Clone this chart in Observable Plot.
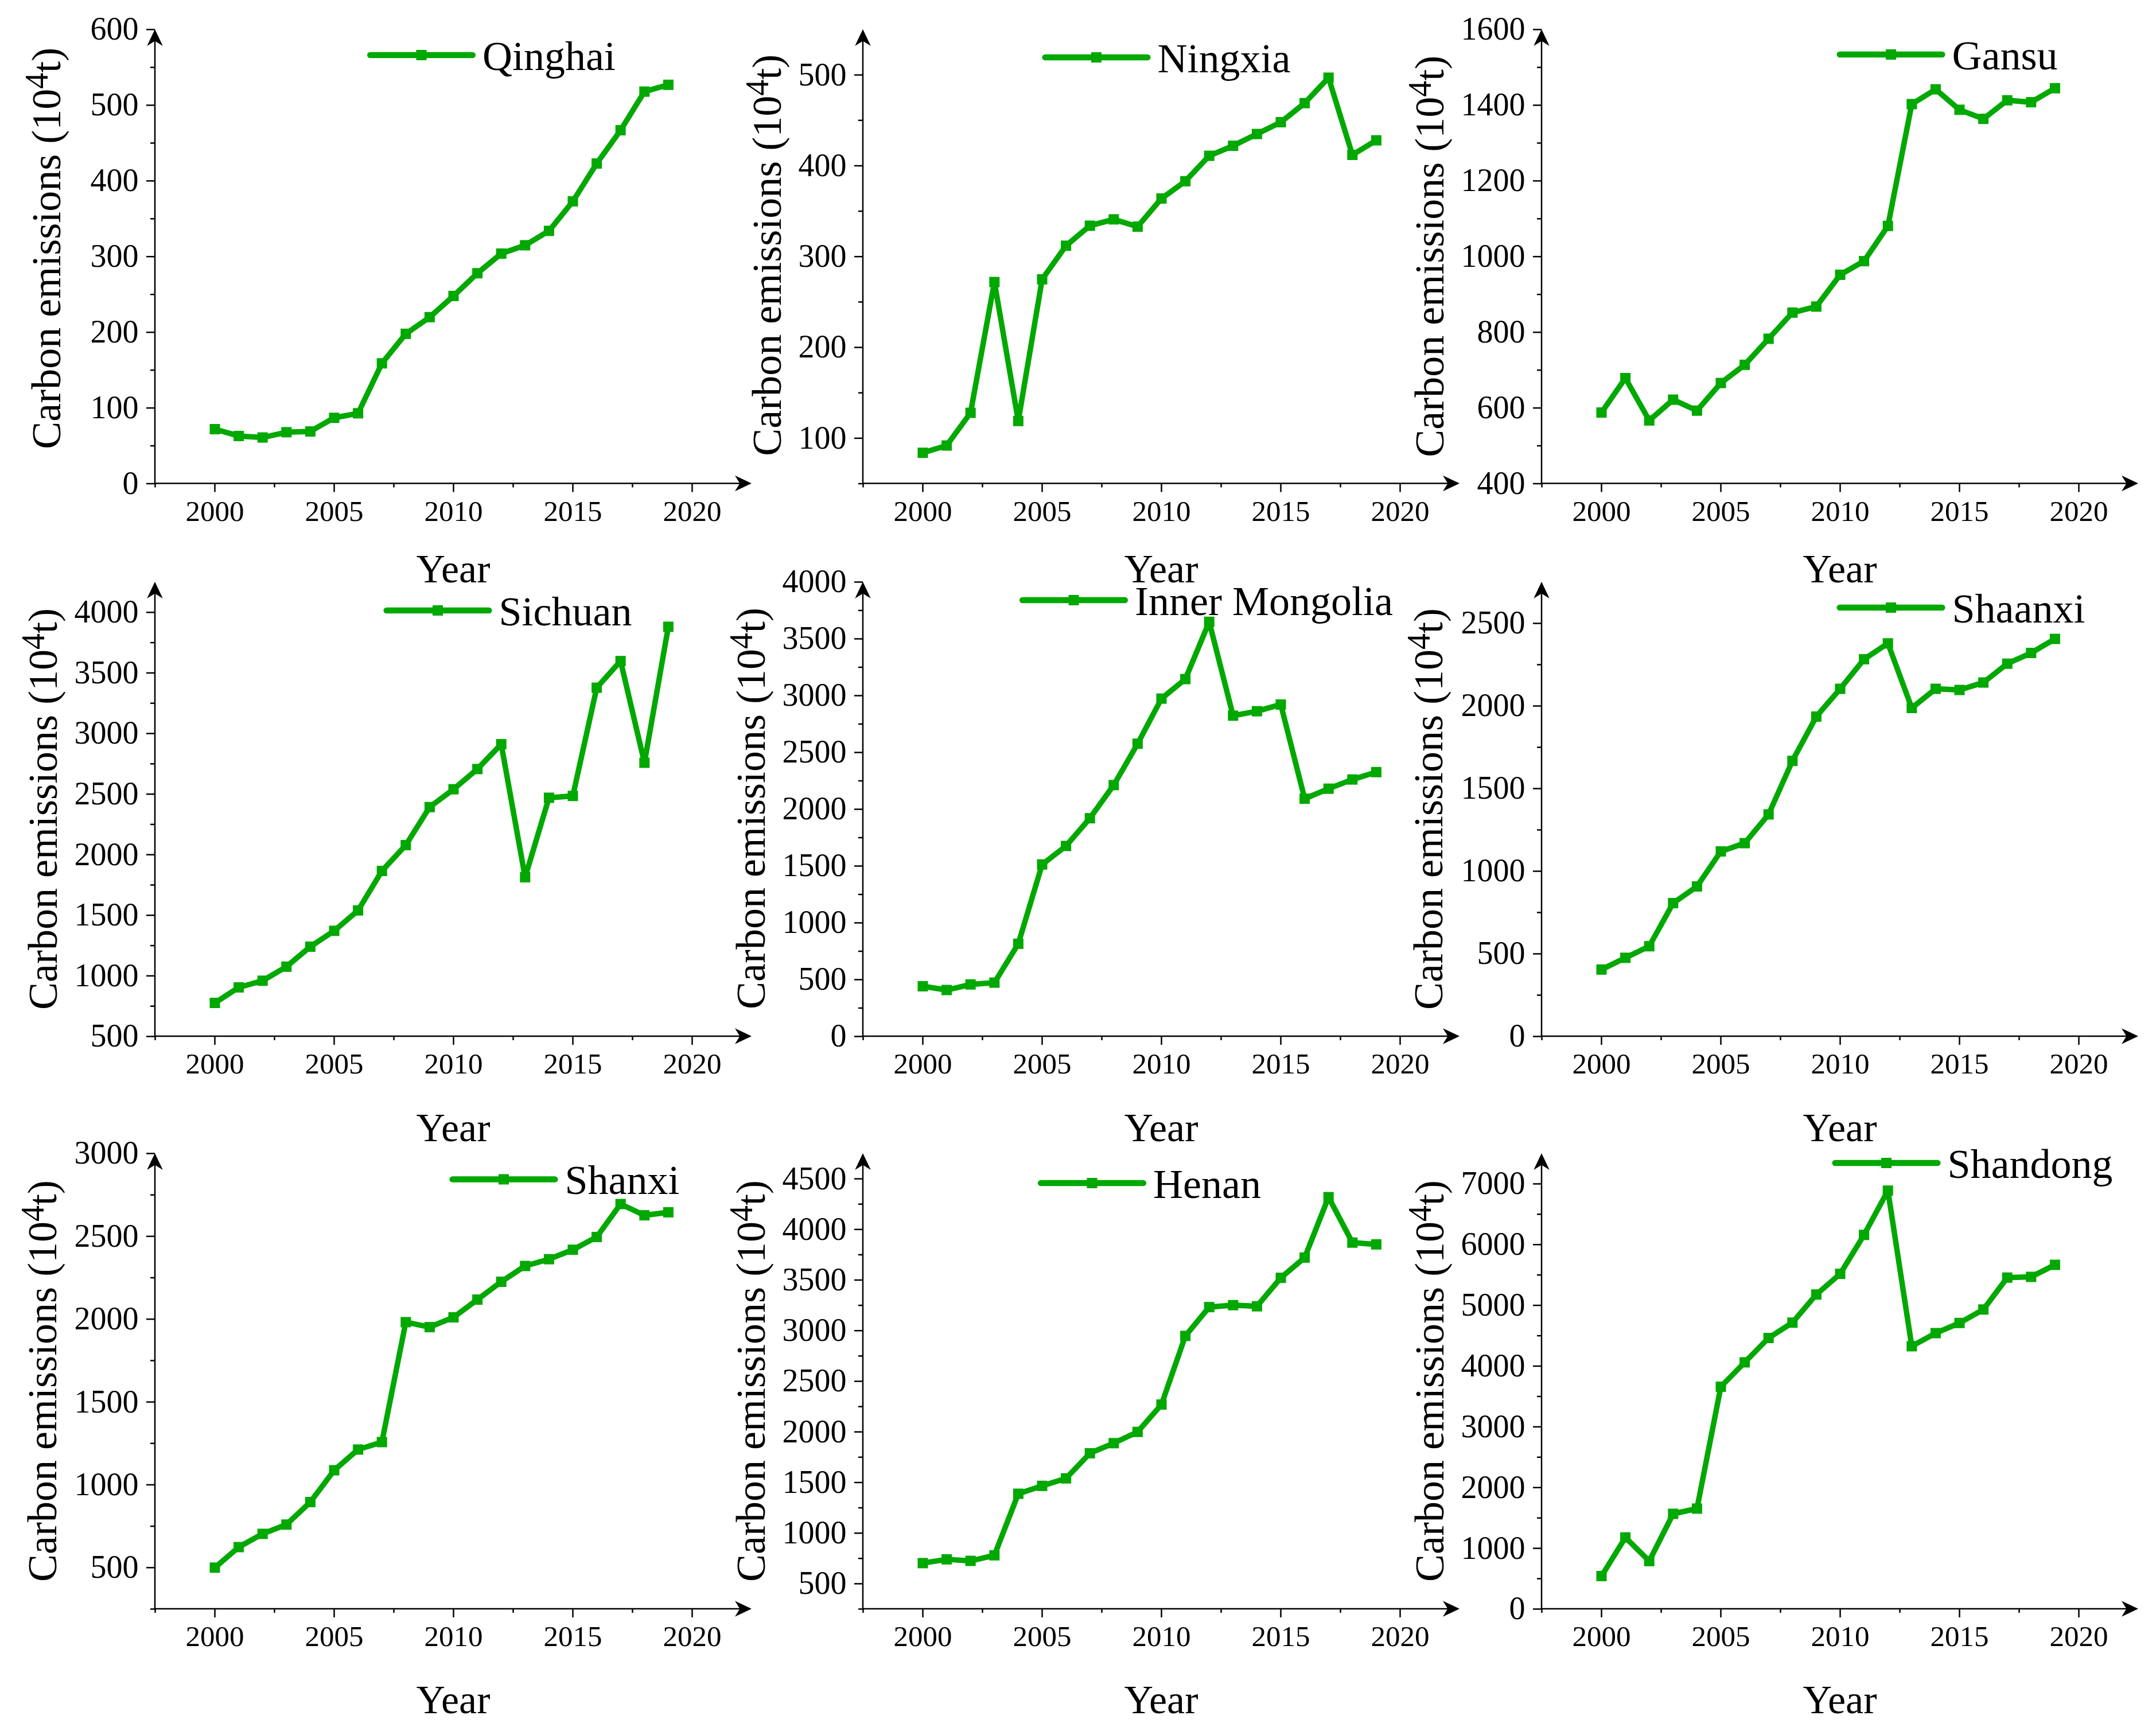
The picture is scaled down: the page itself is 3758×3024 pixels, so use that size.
<!DOCTYPE html>
<html>
<head>
<meta charset="utf-8">
<script src="https://cdn.jsdelivr.net/npm/d3@7"></script>
<script src="https://cdn.jsdelivr.net/npm/@observablehq/plot@0.6"></script>
<style>
html, body { margin: 0; padding: 0; background: #fff; overflow: hidden; }
#fig { position: relative; width: 3758px; height: 3024px; background: #fff; color: #000; overflow: hidden;
       font-family: 'Liberation Serif', 'Times New Roman', serif; }
.panel { position: absolute; }
</style>
</head>
<body>
<div id="fig"></div>
<script>
// ---------------- DATA ----------------
const years = [2000, 2001, 2002, 2003, 2004, 2005, 2006, 2007, 2008, 2009,
               2010, 2011, 2012, 2013, 2014, 2015, 2016, 2017, 2018, 2019];

const provinces = ["Qinghai", "Ningxia", "Gansu", "Sichuan", "Inner Mongolia",
                   "Shaanxi", "Shanxi", "Henan", "Shandong"];

const qinghai  = [72, 63, 61, 68, 69, 87, 93, 159, 198, 220, 248, 278, 304, 315, 334, 373, 423, 467, 518, 527];
const ningxia  = [84, 92, 128, 272, 119, 275, 312, 334, 341, 333, 364, 383, 411, 422, 435, 448, 469, 497, 412, 428];
const gansu    = [588, 679, 567, 622, 593, 666, 714, 783, 852, 868, 952, 988, 1081, 1403, 1442, 1388, 1364, 1413, 1408, 1445];
const sichuan  = [777, 905, 960, 1076, 1241, 1372, 1540, 1866, 2079, 2393, 2540, 2707, 2912, 1814, 2470, 2485, 3378, 3598, 2759, 3881];
const innerMongolia = [442, 409, 458, 474, 816, 1514, 1677, 1921, 2213, 2577, 2974, 3146, 3650, 2824, 2863, 2922, 2093, 2181, 2262, 2327];
const shaanxi  = [405, 476, 546, 807, 908, 1120, 1170, 1344, 1668, 1936, 2104, 2283, 2379, 1988, 2104, 2097, 2142, 2256, 2321, 2406];
const shanxi   = [500, 624, 704, 760, 896, 1088, 1213, 1258, 1982, 1952, 2011, 2118, 2226, 2321, 2362, 2419, 2496, 2695, 2627, 2645];
const henan    = [704, 741, 726, 781, 1389, 1467, 1541, 1789, 1889, 2000, 2270, 2948, 3233, 3252, 3241, 3522, 3722, 4319, 3870, 3852];
const shandong = [543, 1179, 790, 1568, 1654, 3660, 4062, 4463, 4716, 5179, 5519, 6160, 6889, 4327, 4543, 4710, 4932, 5457, 5469, 5667];

// y-axis extents and tick labels
const qinghaiRange = [0, 600],     qinghaiTicks = [0, 100, 200, 300, 400, 500, 600];
const ningxiaRange = [50, 550],    ningxiaTicks = [100, 200, 300, 400, 500];
const gansuRange = [400, 1600],    gansuTicks = [400, 600, 800, 1000, 1200, 1400, 1600];
const sichuanRange = [500, 4250],  sichuanTicks = [500, 1000, 1500, 2000, 2500, 3000, 3500, 4000];
const innerMongoliaRange = [0, 4000], innerMongoliaTicks = [0, 500, 1000, 1500, 2000, 2500, 3000, 3500, 4000];
const shaanxiRange = [0, 2750],    shaanxiTicks = [0, 500, 1000, 1500, 2000, 2500];
const shanxiRange = [250, 3000],   shanxiTicks = [500, 1000, 1500, 2000, 2500, 3000];
const henanRange = [250, 4750],    henanTicks = [500, 1000, 1500, 2000, 2500, 3000, 3500, 4000, 4500];
const shandongRange = [0, 7500],   shandongTicks = [0, 1000, 2000, 3000, 4000, 5000, 6000, 7000];

const xRange = [1997.5, 2022.5];
const xTicks = [2000, 2005, 2010, 2015, 2020];
const xMinorTicks = [1997.5, 2002.5, 2007.5, 2012.5, 2017.5];

const yTitle = "Carbon emissions (10";
const yTitleSup = "4";
const yTitleEnd = "t)";
const xTitle = "Year";

const series = [qinghai, ningxia, gansu, sichuan, innerMongolia, shaanxi, shanxi, henan, shandong];
const ranges = [qinghaiRange, ningxiaRange, gansuRange, sichuanRange, innerMongoliaRange, shaanxiRange, shanxiRange, henanRange, shandongRange];
const ticks = [qinghaiTicks, ningxiaTicks, gansuTicks, sichuanTicks, innerMongoliaTicks, shaanxiTicks, shanxiTicks, henanTicks, shandongTicks];

// ---------------- LAYOUT / STYLE ----------------
const green = "#00a800";
const colAxisX = [270, 1503.5, 2687];
const rowTop = [51, 1014, 2010];
const rowBottom = [842.5, 1806, 2804];
const rowYearGap = [172, 183, 182];
// legend: [left of legend line rel. to y axis, line y rel. to plot top]; y-title baseline offset & vertical shift
const layout = [
  {col: 0, row: 0, legend: [370, 45],   labelX: -165, labelDy: -14},
  {col: 1, row: 0, legend: [312.5, 49], labelX: -143, labelDy: -2},
  {col: 2, row: 0, legend: [514.5, 44], labelX: -171, labelDy: 0},
  {col: 0, row: 1, legend: [398.5, 50], labelX: -171, labelDy: 0},
  {col: 1, row: 1, legend: [273, 32],   labelX: -171, labelDy: -1},
  {col: 2, row: 1, legend: [514.5, 45], labelX: -173, labelDy: 0},
  {col: 0, row: 2, legend: [513.5, 45.5], labelX: -172, labelDy: 0},
  {col: 1, row: 2, legend: [305, 52],   labelX: -171, labelDy: 0},
  {col: 2, row: 2, legend: [506.5, 17], labelX: -171, labelDy: 0}
];
const M = {top: 40, right: 30, bottom: 215, left: 260};
const plotW = 1040;
const SVGNS = "http://www.w3.org/2000/svg";

function decor(domainY, L, yearGap) {
  return (index, scales) => {
    const x = scales.x, y = scales.y;
    const g = d3.create("svg:g");
    const xa = x(xRange[0]), xb = x(xRange[1]);
    const ya = y(domainY[0]), yb = y(domainY[1]);
    // axis lines
    g.append("line").attr("x1", xa).attr("x2", xa).attr("y1", ya).attr("y2", yb + 12)
      .attr("stroke", "black").attr("stroke-width", 2.5);
    g.append("line").attr("x1", xa).attr("x2", xb - 12).attr("y1", ya).attr("y2", ya)
      .attr("stroke", "black").attr("stroke-width", 2.5);
    // arrow heads
    g.append("path").attr("d", "M0,0L13.75,29L0,20.5L-13.75,29Z")
      .attr("transform", `translate(${xa},${yb})`).attr("fill", "black");
    g.append("path").attr("d", "M0,0L-29,-13.75L-20.5,0L-29,13.75Z")
      .attr("transform", `translate(${xb},${ya})`).attr("fill", "black");
    // y title
    const t = g.append("text")
      .attr("transform", `translate(${xa + L.labelX},${(ya + yb) / 2 + L.labelDy}) rotate(-90)`)
      .attr("text-anchor", "middle").attr("font-size", 72).attr("fill", "black");
    t.append("tspan").text(yTitle);
    t.append("tspan").attr("font-size", 56).attr("dy", -22).text(yTitleSup);
    t.append("tspan").attr("dy", 22).text(yTitleEnd);
    // x title
    g.append("text").attr("x", x((xRange[0] + xRange[1]) / 2)).attr("y", ya + yearGap)
      .attr("text-anchor", "middle").attr("font-size", 70).attr("fill", "black").text(xTitle);
    return g.node();
  };
}

function legend(name, L, domainY) {
  return (index, scales) => {
    const xa = scales.x(xRange[0]);
    const yb = scales.y(domainY[1]);
    const g = d3.create("svg:g");
    const lx0 = xa + L.legend[0], ly = yb + L.legend[1];
    g.append("line").attr("x1", lx0 + 5.3).attr("x2", lx0 + 189 - 5.3).attr("y1", ly).attr("y2", ly)
      .attr("stroke", green).attr("stroke-width", 10.7).attr("stroke-linecap", "round");
    g.append("rect").attr("x", lx0 + 94.5 - 9).attr("y", ly - 9).attr("width", 18).attr("height", 18)
      .attr("fill", green);
    g.append("text").attr("x", lx0 + 201).attr("y", ly + 25.5).attr("font-size", 72)
      .attr("fill", "black").attr("text-anchor", "start").text(name);
    return g.node();
  };
}

const fig = document.getElementById("fig");
provinces.forEach((name, i) => {
  const L = layout[i];
  const ax = colAxisX[L.col];
  const top = rowTop[L.row];
  const inner = rowBottom[L.row] - top;
  const domainY = ranges[i];
  const major = ticks[i];
  const step = major[1] - major[0];
  const minor = [];
  for (let v = major[0] - step / 2; v < domainY[1]; v += step) if (v >= domainY[0]) minor.push(v);
  const data = years.map((year, k) => ({year, value: series[i][k]}));

  const svg = Plot.plot({
    width: M.left + plotW + M.right,
    height: M.top + inner + M.bottom,
    marginTop: M.top, marginRight: M.right, marginBottom: M.bottom, marginLeft: M.left,
    x: {domain: xRange},
    y: {domain: domainY},
    style: {fontFamily: "'Liberation Serif', 'Times New Roman', serif", background: "transparent",
            overflow: "visible", color: "black", maxWidth: "none"},
    marks: [
      Plot.axisY(minor, {anchor: "left", tickSize: 8, tickFormat: () => "", strokeWidth: 2.5, label: null}),
      Plot.axisY(major, {anchor: "left", tickSize: 15, tickPadding: 14, fontSize: 56,
                         tickFormat: (d) => String(d), strokeWidth: 2.5, label: null}),
      Plot.axisX(xMinorTicks, {anchor: "bottom", tickSize: 7, tickFormat: () => "", strokeWidth: 2.5, label: null}),
      Plot.axisX(xTicks, {anchor: "bottom", tickSize: 15, tickPadding: 13.3, fontSize: 51,
                          tickFormat: (d) => String(d), strokeWidth: 2.5, label: null}),
      decor(domainY, L, rowYearGap[L.row]),
      Plot.line(data, {x: "year", y: "value", stroke: green, strokeWidth: 9.5,
                       strokeLinejoin: "round", strokeLinecap: "round"}),
      Plot.dot(data, {x: "year", y: "value", symbol: "square", r: 10.16, fill: green, stroke: "none"}),
      legend(name, L, domainY)
    ]
  });
  const div = document.createElement("div");
  div.className = "panel";
  div.style.left = (ax - M.left) + "px";
  div.style.top = (top - M.top) + "px";
  div.style.width = (M.left + plotW + M.right) + "px";
  div.appendChild(svg);
  fig.appendChild(div);
});
</script>
</body>
</html>
